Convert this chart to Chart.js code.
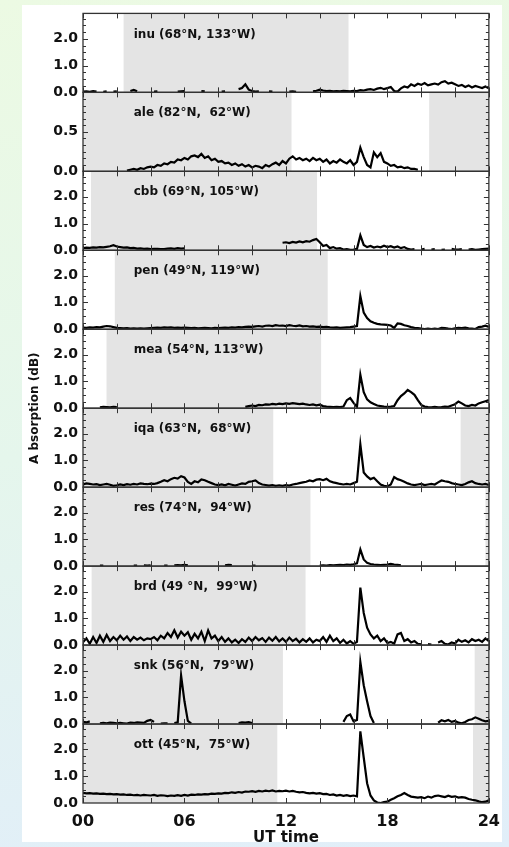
<!DOCTYPE html>
<html>
<head>
<meta charset="utf-8">
<script src="https://cdn.jsdelivr.net/npm/chart.js@4.4.1/dist/chart.umd.min.js"></script>
<style>
    html, body { margin: 0; padding: 0; }
    body {
        width: 509px; height: 847px; position: relative; overflow: hidden;
        background: linear-gradient(172deg, #ecfae3 0%, #e5f6ec 50%, #e1eef9 100%);
    }
    #card { position: absolute; left: 22px; top: 5px; width: 480px; height: 837px; background: #fff; }
    #wrap { position: absolute; left: 0; top: 0; }
</style>
</head>
<body>
<div id="card"></div>
<div id="wrap"><canvas id="chart" width="509" height="847"></canvas></div>
<script>
// UT hours, one sample every 12 minutes
const HOURS = [
    0, 0.2, 0.4, 0.6, 0.8, 1, 1.2, 1.4, 1.6, 1.8,
    2, 2.2, 2.4, 2.6, 2.8, 3, 3.2, 3.4, 3.6, 3.8,
    4, 4.2, 4.4, 4.6, 4.8, 5, 5.2, 5.4, 5.6, 5.8,
    6, 6.2, 6.4, 6.6, 6.8, 7, 7.2, 7.4, 7.6, 7.8,
    8, 8.2, 8.4, 8.6, 8.8, 9, 9.2, 9.4, 9.6, 9.8,
    10, 10.2, 10.4, 10.6, 10.8, 11, 11.2, 11.4, 11.6, 11.8,
    12, 12.2, 12.4, 12.6, 12.8, 13, 13.2, 13.4, 13.6, 13.8,
    14, 14.2, 14.4, 14.6, 14.8, 15, 15.2, 15.4, 15.6, 15.8,
    16, 16.2, 16.4, 16.6, 16.8, 17, 17.2, 17.4, 17.6, 17.8,
    18, 18.2, 18.4, 18.6, 18.8, 19, 19.2, 19.4, 19.6, 19.8,
    20, 20.2, 20.4, 20.6, 20.8, 21, 21.2, 21.4, 21.6, 21.8,
    22, 22.2, 22.4, 22.6, 22.8, 23, 23.2, 23.4, 23.6, 23.8, 24
];

const STATIONS = [
    'inu (68°N, 133°W)',
    'ale (82°N,  62°W)',
    'cbb (69°N, 105°W)',
    'pen (49°N, 119°W)',
    'mea (54°N, 113°W)',
    'iqa (63°N,  68°W)',
    'res (74°N,  94°W)',
    'brd (49 °N,  99°W)',
    'snk (56°N,  79°W)',
    'ott (45°N,  75°W)'
];

// absorption (dB) per station
const INU = [
    0.03, 0.04, 0.02, 0.05, 0.03, null, 0.02, 0.04, null, 0.03,
    0.04, null, null, null, 0.05, 0.09, 0.04, null, null, null,
    null, 0.03, 0.04, null, null, null, null, null, 0.03, 0.04,
    0.05, null, null, null, null, 0.05, 0.04, null, null, null,
    null, 0.03, 0.04, null, null, null, 0.12, 0.16, 0.3, 0.1,
    0.05, 0.03, 0.04, null, null, 0.04, 0.03, null, null, null,
    null, 0.03, 0.04, 0.02, null, null, null, null, 0.04, 0.06,
    0.1, 0.07, 0.05, 0.06, 0.04, 0.05, 0.04, 0.06, 0.05, 0.04,
    0.06, 0.05, 0.08, 0.07, 0.1, 0.12, 0.09, 0.14, 0.17, 0.12,
    0.16, 0.2, 0.05, 0.03, 0.15, 0.22, 0.18, 0.3, 0.24, 0.32,
    0.28, 0.35, 0.26, 0.3, 0.33, 0.29, 0.38, 0.42, 0.33, 0.36,
    0.3, 0.24, 0.28, 0.2, 0.26, 0.18, 0.24, 0.2, 0.16, 0.22, 0.15
];
const ALE = [
    null, null, null, null, null, null, null, null, null, null,
    null, null, null, 0.01, 0.02, 0.03, 0.02, 0.04, 0.03, 0.05,
    0.06, 0.05, 0.08, 0.07, 0.1, 0.09, 0.12, 0.11, 0.15, 0.14,
    0.17, 0.15, 0.19, 0.2, 0.18, 0.22, 0.17, 0.19, 0.14, 0.16,
    0.12, 0.13, 0.1, 0.11, 0.08, 0.1, 0.07, 0.09, 0.06, 0.08,
    0.05, 0.07, 0.06, 0.04, 0.08, 0.06, 0.09, 0.11, 0.08, 0.13,
    0.1, 0.16, 0.19, 0.15, 0.17, 0.14, 0.16, 0.13, 0.17, 0.14,
    0.16, 0.12, 0.15, 0.1, 0.13, 0.11, 0.15, 0.12, 0.1, 0.14,
    0.08, 0.12, 0.3, 0.18, 0.08, 0.05, 0.24, 0.18, 0.23, 0.12,
    0.1, 0.07, 0.08, 0.05, 0.06, 0.04, 0.05, 0.03, 0.03, 0.02,
    null, null, null, null, null, null, null, null, null, null,
    null, null, null, null, null, null, null, null, null, null, null
];
const CBB = [
    0.08, 0.1, 0.09, 0.11, 0.1, 0.12, 0.11, 0.13, 0.15, 0.19,
    0.14, 0.12, 0.1, 0.11, 0.08, 0.09, 0.06, 0.07, 0.05, 0.06,
    0.04, 0.05, 0.05, 0.04, 0.04, 0.06, 0.07, 0.05, 0.08, 0.06,
    0.07, null, null, null, null, null, null, null, null, null,
    null, null, null, null, null, null, null, null, null, null,
    null, null, null, null, null, null, null, null, null, 0.28,
    0.3, 0.27, 0.31, 0.29, 0.33, 0.3, 0.34, 0.32, 0.38, 0.42,
    0.3, 0.16, 0.2, 0.08, 0.12, 0.06, 0.08, 0.03, 0.04, 0.02,
    0.03, 0.05, 0.56, 0.2, 0.12, 0.16, 0.1, 0.14, 0.11, 0.17,
    0.12, 0.15, 0.1, 0.14, 0.08, 0.12, 0.05, 0.03, 0.04, null,
    0.03, 0.05, null, 0.03, 0.04, null, 0.02, 0.03, null, 0.05,
    0.03, 0.03, 0.04, null, 0.03, 0.04, 0.02, 0.03, 0.04, 0.05, 0.06
];
const PEN = [
    0.06, 0.05, 0.07, 0.06, 0.08, 0.07, 0.1, 0.12, 0.11, 0.08,
    0.05, 0.04, 0.03, 0.04, 0.02, 0.03, 0.02, 0.03, 0.02, 0.03,
    0.04, 0.05, 0.06, 0.05, 0.07, 0.06, 0.07, 0.05, 0.06, 0.05,
    0.06, 0.05, 0.04, 0.05, 0.03, 0.04, 0.05, 0.04, 0.03, 0.05,
    0.04, 0.05, 0.06, 0.05, 0.07, 0.06, 0.08, 0.07, 0.09, 0.1,
    0.09, 0.11, 0.12, 0.1, 0.13, 0.14, 0.12, 0.15, 0.13, 0.14,
    0.12, 0.15, 0.13, 0.12, 0.14, 0.11, 0.12, 0.1, 0.11, 0.09,
    0.1, 0.08, 0.09, 0.07, 0.06, 0.07, 0.05, 0.06, 0.07, 0.08,
    0.1, 0.12, 1.24, 0.62, 0.42, 0.3, 0.24, 0.2, 0.18, 0.17,
    0.16, 0.14, 0.05, 0.22, 0.2, 0.15, 0.12, 0.08, 0.05, 0.04,
    0.02, 0.01, 0.02, 0.01, 0.02, 0.01, 0.05, 0.04, 0.02, 0.01,
    0.03, 0.05, 0.04, 0.06, 0.03, 0.02, 0.01, 0.08, 0.1, 0.13, 0.09
];
const MEA = [
    null, null, null, null, null, 0.03, 0.05, 0.04, 0.03, 0.05,
    0.04, null, null, null, null, null, null, null, null, null,
    null, null, null, null, null, null, null, null, null, null,
    null, null, null, null, null, null, null, null, null, null,
    null, null, null, null, null, null, null, null, 0.05, 0.08,
    0.1, 0.08, 0.12, 0.11, 0.14, 0.13, 0.16, 0.14, 0.17, 0.15,
    0.18, 0.16, 0.19, 0.17, 0.15, 0.17, 0.14, 0.12, 0.14, 0.11,
    0.13, 0.08, 0.06, 0.05, 0.04, 0.05, 0.04, 0.06, 0.3, 0.38,
    0.2, 0.05, 1.25, 0.6, 0.33, 0.22, 0.16, 0.1, 0.08, 0.06,
    0.05, 0.06, 0.08, 0.3, 0.45, 0.55, 0.68, 0.6, 0.5, 0.3,
    0.12, 0.06, 0.04, 0.03, 0.05, 0.03, 0.04, 0.06, 0.05, 0.1,
    0.15, 0.25, 0.18, 0.1, 0.08, 0.12, 0.1, 0.18, 0.22, 0.26, 0.3
];
const IQA = [
    0.1, 0.14, 0.12, 0.1, 0.11, 0.08, 0.1, 0.12, 0.09, 0.05,
    0.07, 0.1, 0.08, 0.11, 0.09, 0.12, 0.1, 0.14, 0.12, 0.11,
    0.13, 0.12, 0.15, 0.2, 0.26, 0.22, 0.3, 0.35, 0.32, 0.41,
    0.36, 0.2, 0.12, 0.22, 0.18, 0.29, 0.26, 0.2, 0.15, 0.1,
    0.08, 0.1, 0.07, 0.12, 0.09, 0.06, 0.1, 0.14, 0.12, 0.2,
    0.22, 0.25, 0.15, 0.1, 0.08, 0.06, 0.08, 0.05, 0.07, 0.05,
    0.08, 0.06, 0.1, 0.12, 0.15, 0.18, 0.2, 0.25, 0.22, 0.28,
    0.3, 0.26, 0.31, 0.22, 0.18, 0.15, 0.12, 0.1, 0.12, 0.1,
    0.15, 0.2, 1.6, 0.55, 0.4, 0.3, 0.35, 0.22, 0.1, 0.05,
    0.03, 0.1, 0.38, 0.3, 0.26, 0.2, 0.14, 0.1, 0.08, 0.1,
    0.12, 0.08, 0.1, 0.12, 0.1, 0.18, 0.25, 0.22, 0.2, 0.15,
    0.12, 0.1, 0.08, 0.12, 0.18, 0.22, 0.15, 0.12, 0.1, 0.12, 0.08
];
const RES = [
    null, null, null, null, null, 0.02, 0.02, null, null, null,
    null, null, null, null, null, 0.02, 0.02, null, 0.03, 0.02,
    0.03, null, null, null, 0.02, 0.02, null, 0.03, 0.04, 0.03,
    0.05, 0.03, null, null, null, null, null, null, null, null,
    null, null, 0.03, 0.05, 0.04, null, null, null, null, null,
    0.02, 0.02, null, null, null, null, null, null, null, null,
    null, null, null, null, null, null, null, null, null, null,
    0.02, 0.03, 0.02, 0.04, 0.03, 0.04, 0.05, 0.04, 0.06, 0.05,
    0.07, 0.1, 0.62, 0.25, 0.12, 0.08, 0.06, 0.05, 0.04, 0.05,
    0.06, 0.08, 0.06, 0.05, 0.03, null, null, null, null, null,
    null, null, null, null, null, null, null, null, null, null,
    null, null, null, null, null, null, null, null, null, null, null
];
const BRD = [
    0.1, 0.25, 0.05, 0.3, 0.08, 0.35, 0.12, 0.38, 0.15, 0.3,
    0.18, 0.35, 0.2, 0.32, 0.15, 0.3, 0.2, 0.28, 0.18, 0.25,
    0.22, 0.3, 0.18, 0.35, 0.25, 0.45, 0.3, 0.55, 0.28, 0.5,
    0.35, 0.48, 0.2, 0.42, 0.25, 0.5, 0.15, 0.55, 0.25, 0.35,
    0.15, 0.3, 0.12, 0.25, 0.1, 0.2, 0.08, 0.22, 0.12, 0.28,
    0.15, 0.3, 0.18, 0.26, 0.12, 0.28, 0.16, 0.3, 0.14, 0.25,
    0.12, 0.28, 0.15, 0.24, 0.1, 0.22, 0.12, 0.25, 0.1, 0.2,
    0.15, 0.3, 0.12, 0.35, 0.15, 0.25, 0.08, 0.2, 0.06, 0.15,
    0.05, 0.12, 2.15, 1.2, 0.65, 0.4, 0.25, 0.35, 0.15, 0.25,
    0.08, 0.12, 0.05, 0.4, 0.45, 0.15, 0.22, 0.1, 0.15, 0.05,
    0.03, null, 0.04, 0.02, null, 0.1, 0.15, 0.05, 0.02, 0.1,
    0.06, 0.2, 0.12, 0.18, 0.1, 0.22, 0.15, 0.2, 0.12, 0.25, 0.15
];
const SNK = [
    0.08, 0.06, 0.1, null, null, 0.03, 0.04, 0.03, 0.05, 0.04,
    0.03, 0.04, 0.03, 0.02, 0.05, 0.04, 0.06, 0.05, 0.04, 0.12,
    0.15, 0.08, null, 0.02, 0.03, 0.03, null, 0.04, 0.06, 1.82,
    0.85, 0.12, 0.02, null, null, null, null, null, null, null,
    null, null, null, null, null, null, 0.04, 0.06, 0.05, 0.07,
    0.04, null, null, null, null, null, null, null, null, null,
    null, null, null, null, null, null, null, null, null, null,
    null, null, null, null, null, null, null, 0.08, 0.3, 0.36,
    0.1, 0.15, 2.32, 1.45, 0.85, 0.3, 0.04, null, null, null,
    null, null, null, null, null, null, null, null, null, null,
    null, null, null, null, null, 0.05, 0.14, 0.1, 0.15, 0.08,
    0.12, 0.05, 0.03, 0.08, 0.15, 0.18, 0.25, 0.2, 0.14, 0.1, 0.12
];
const OTT = [
    0.38, 0.36, 0.37, 0.35, 0.36, 0.34, 0.35, 0.33, 0.34, 0.32,
    0.33, 0.31, 0.32, 0.3, 0.31, 0.29, 0.3, 0.28, 0.3, 0.29,
    0.28, 0.3, 0.27, 0.29, 0.28, 0.26, 0.28, 0.27, 0.29, 0.27,
    0.3, 0.28, 0.31, 0.3, 0.32, 0.31, 0.33, 0.32, 0.35, 0.34,
    0.36, 0.35, 0.38, 0.37, 0.4, 0.38, 0.41, 0.39, 0.43, 0.42,
    0.44, 0.42, 0.45, 0.43, 0.46, 0.44, 0.47, 0.43, 0.45, 0.44,
    0.46, 0.43, 0.45, 0.42, 0.4, 0.41, 0.38, 0.36, 0.38, 0.35,
    0.37, 0.33, 0.34, 0.3, 0.32, 0.28, 0.3, 0.27, 0.29, 0.26,
    0.28, 0.25, 2.68, 1.7, 0.74, 0.28, 0.1, 0.02, 0.0, 0.03,
    0.05, 0.12, 0.18, 0.25, 0.3, 0.37, 0.3, 0.24, 0.22, 0.2,
    0.22, 0.18, 0.24, 0.2, 0.26, 0.28, 0.25, 0.22, 0.27, 0.23,
    0.25, 0.2, 0.22, 0.2, 0.15, 0.12, 0.1, 0.06, 0.03, 0.05, 0.1
];
const SERIES = [INU, ALE, CBB, PEN, MEA, IQA, RES, BRD, SNK, OTT];

// shaded (night-side) intervals per panel, UT hours
const SHADE_SPANS = [
    [[2.4, 15.7]],
    [[0, 12.33], [20.47, 24]],
    [[0.47, 13.84]],
    [[1.88, 14.47]],
    [[1.39, 14.08]],
    [[0, 11.25], [22.33, 24]],
    [[0, 13.45], [23.8, 24]],
    [[0.51, 13.16]],
    [[0, 11.82], [23.16, 24]],
    [[0, 11.49], [23.06, 24]]
];

const Y_MAX = [2.95, 1.0, 2.95, 2.95, 2.95, 2.95, 2.95, 2.95, 2.95, 2.95];
const Y_TICKS = [
    [0, 1, 2], [0, 0.5], [0, 1, 2], [0, 1, 2], [0, 1, 2],
    [0, 1, 2], [0, 1, 2], [0, 1, 2], [0, 1, 2], [0, 1, 2]
];
const Y_MINOR_STEP = [0.25, 1 / 12, 0.25, 0.25, 0.25, 0.25, 0.25, 0.25, 0.25, 0.25];
const X_TICKS = [0, 6, 12, 18, 24];
const X_TICK_LABELS = ['00', '06', '12', '18', '24'];
const X_MINOR_STEP = 2;
const LABEL_HOUR = 3.0;

const FONT = 'DejaVu Sans';
const SHADE_COLOR = '#e4e4e4';
const FRAME_COLOR = '#333';

Chart.defaults.font.family = FONT;

const panelDecor = {
    id: 'panelDecor',
    beforeDatasetsDraw(chart) {
        const { ctx, scales } = chart;
        const xs = scales.x;
        ctx.save();
        ctx.fillStyle = SHADE_COLOR;
        SHADE_SPANS.forEach((spans, i) => {
            const ys = scales['y' + i];
            spans.forEach(([a, b]) => {
                const x0 = xs.getPixelForValue(a);
                const x1 = xs.getPixelForValue(b);
                ctx.fillRect(x0, ys.top, x1 - x0, ys.bottom - ys.top);
            });
        });
        ctx.restore();
    },
    afterDatasetsDraw(chart) {
        const { ctx, chartArea: area, scales } = chart;
        const xs = scales.x;
        ctx.save();
        ctx.strokeStyle = FRAME_COLOR;
        STATIONS.forEach((label, i) => {
            const ys = scales['y' + i];
            const top = ys.top, bottom = ys.bottom;

            // inward tick marks
            ctx.lineWidth = 1;
            ctx.beginPath();
            for (let h = 0; h <= 24; h += X_MINOR_STEP) {
                const px = Math.round(xs.getPixelForValue(h)) + 0.5;
                ctx.moveTo(px, bottom); ctx.lineTo(px, bottom - 5);
                ctx.moveTo(px, top); ctx.lineTo(px, top + 5);
            }
            const step = Y_MINOR_STEP[i];
            for (let k = 1; k * step < Y_MAX[i] - 1e-6; k++) {
                const v = k * step;
                const py = Math.round(ys.getPixelForValue(v)) + 0.5;
                const major = Y_TICKS[i].some(t => Math.abs(t - v) < 1e-6);
                const len = major ? 5 : 3;
                ctx.moveTo(area.left, py); ctx.lineTo(area.left + len, py);
                ctx.moveTo(area.right, py); ctx.lineTo(area.right - len, py);
            }
            ctx.stroke();

            // panel frame
            ctx.lineWidth = 1.3;
            ctx.strokeRect(area.left, top, area.right - area.left, bottom - top);

            // station label
            ctx.fillStyle = '#111';
            ctx.font = `bold 12px "${FONT}"`;
            ctx.textAlign = 'left';
            ctx.textBaseline = 'middle';
            ctx.fillText(label, xs.getPixelForValue(LABEL_HOUR), top + 21);
        });

        // shared y title
        ctx.save();
        ctx.translate(35, (area.top + area.bottom) / 2);
        ctx.rotate(-Math.PI / 2);
        ctx.fillStyle = '#111';
        ctx.font = `bold 12px "${FONT}"`;
        ctx.textAlign = 'center';
        ctx.textBaseline = 'middle';
        ctx.fillText('A bsorption (dB)', 0, 0);
        ctx.restore();

        ctx.restore();
    }
};

const scales = {
    x: {
        type: 'linear',
        min: 0,
        max: 24,
        afterBuildTicks: (scale) => { scale.ticks = X_TICKS.map(v => ({ value: v })); },
        afterFit: (scale) => { scale.height = 44; },
        ticks: {
            callback: (v, idx) => X_TICK_LABELS[idx],
            font: { size: 16, weight: 'bold' },
            color: '#111',
            padding: 9,
            maxRotation: 0,
            autoSkip: false
        },
        grid: { display: false, drawTicks: false },
        border: { display: false },
        title: {
            display: true,
            text: 'UT time',
            font: { size: 15, weight: 'bold' },
            color: '#111',
            padding: { top: 0, bottom: 0 }
        }
    }
};

// stacked axes are laid out bottom-up, so register the last panel first
for (let i = STATIONS.length - 1; i >= 0; i--) {
    scales['y' + i] = {
        type: 'linear',
        position: 'left',
        stack: 'panels',
        stackWeight: 1,
        min: 0,
        max: Y_MAX[i],
        afterBuildTicks: (scale) => { scale.ticks = Y_TICKS[i].map(v => ({ value: v })); },
        afterFit: (scale) => { scale.width = 83; },
        ticks: {
            callback: (v) => Number(v).toFixed(1),
            font: { size: 14, weight: 'bold' },
            color: '#111',
            padding: 5,
            autoSkip: false
        },
        grid: { display: false, drawTicks: false },
        border: { display: false }
    };
}

const datasets = SERIES.map((values, i) => ({
    label: STATIONS[i],
    data: values,
    yAxisID: 'y' + i,
    xAxisID: 'x',
    borderColor: '#000',
    borderWidth: 2.2,
    pointRadius: 0,
    tension: 0,
    spanGaps: false
}));

new Chart(document.getElementById('chart'), {
    type: 'line',
    data: { labels: HOURS, datasets },
    options: {
        responsive: false,
        devicePixelRatio: 1,
        animation: false,
        layout: { padding: { left: 0, right: 18, top: 6.5, bottom: 0 } },
        plugins: { legend: { display: false }, tooltip: { enabled: false } },
        scales
    },
    plugins: [panelDecor]
});
</script>
</body>
</html>
